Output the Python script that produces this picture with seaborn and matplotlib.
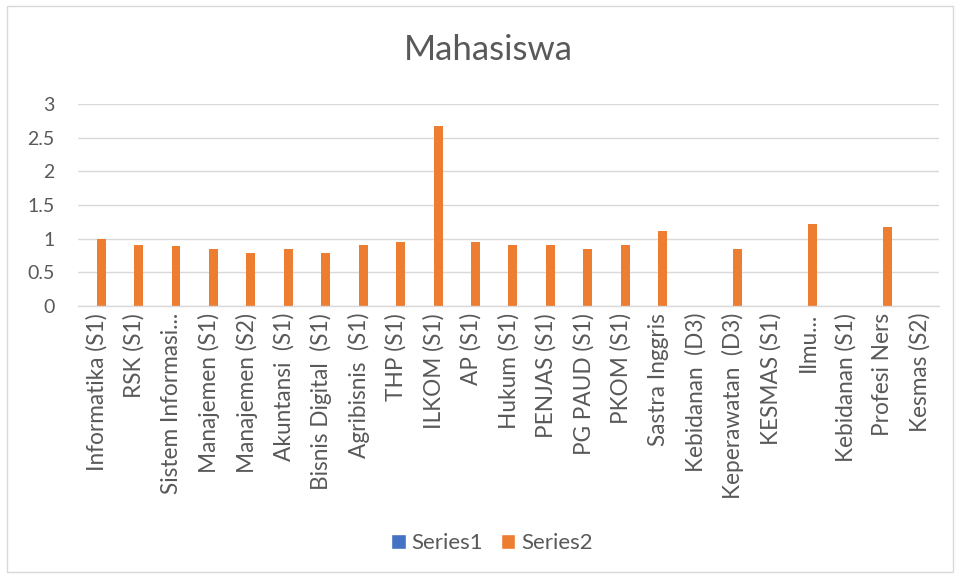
import matplotlib
matplotlib.use("Agg")
import matplotlib.pyplot as plt
import seaborn as sns
import pandas as pd
from matplotlib.patches import Rectangle, Patch

categories = ["Informatika (S1)", "RSK (S1)", "Sistem Informasi...", "Manajemen (S1)",
              "Manajemen (S2)", "Akuntansi  (S1)", "Bisnis Digital  (S1)", "Agribisnis  (S1)",
              "THP (S1)", "ILKOM (S1)", "AP (S1)", "Hukum (S1)", "PENJAS (S1)",
              "PG PAUD (S1)", "PKOM (S1)", "Sastra Inggris", "Kebidanan  (D3)",
              "Keperawatan  (D3)", "KESMAS (S1)", "Ilmu...", "Kebidanan (S1)",
              "Profesi Ners", "Kesmas (S2)"]
series1 = [0] * 23
series2 = [1.0, 0.90, 0.89, 0.85, 0.79, 0.85, 0.79, 0.90, 0.95, 2.68, 0.95, 0.90, 0.90,
           0.85, 0.90, 1.12, 0, 0.84, 0, 1.22, 0, 1.175, 0]
series_names = ["Series1", "Series2"]
yticks = [0, 0.5, 1, 1.5, 2, 2.5, 3]

df = pd.DataFrame({
    "cat": categories * 2,
    "val": series1 + series2,
    "series": [series_names[0]] * 23 + [series_names[1]] * 23,
})

sns.set_style("white")
plt.rcParams["font.family"] = ["Lato", "DejaVu Sans"]
gray = "#595959"

W, H = 961, 578
fig = plt.figure(figsize=(W / 100, H / 100), dpi=100)
fig.patches.append(Rectangle((7 / W, 1 - 572 / H), (953 - 7) / W, (572 - 6) / H,
                             transform=fig.transFigure, fill=False,
                             edgecolor="#D9D9D9", linewidth=1))

ax = fig.add_axes([78 / W, 1 - 306 / H, (939 - 78) / W, (306 - 104) / H])
sns.barplot(data=df, x="cat", y="val", hue="series", order=categories,
            hue_order=series_names, palette=["#4472C4", "#ED7D31"],
            width=0.476, ax=ax, legend=False, saturation=1, edgecolor="none")

ax.set_ylim(0, 3)
ax.set_xlim(-0.5, len(categories) - 0.5)
ax.set_yticks(yticks)
ax.set_yticklabels([f"{t:g}" for t in yticks], color=gray, fontsize=14)
ax.set_xticks(range(len(categories)))
ax.set_xticklabels(categories, rotation=90, color=gray, fontsize=16.3)
ax.tick_params(axis="y", length=0, pad=17)
ax.tick_params(axis="x", length=0, pad=5)
ax.set_xlabel("")
ax.set_ylabel("")
ax.yaxis.grid(True, color="#D9D9D9", linewidth=1)
ax.set_axisbelow(True)
for s in ["top", "right", "left"]:
    ax.spines[s].set_visible(False)
ax.spines["bottom"].set_color("#D9D9D9")
ax.spines["bottom"].set_linewidth(1)

fig.text(488 / W, 1 - 50 / H, "Mahasiswa", ha="center", va="center",
         fontsize=25, color=gray)

handles = [Patch(facecolor="#4472C4"), Patch(facecolor="#ED7D31")]
fig.legend(handles, series_names, loc="center", bbox_to_anchor=(492 / W, 1 - 543 / H),
           ncol=2, frameon=False, fontsize=16, labelcolor=gray,
           handlelength=0.65, handleheight=0.65, handletextpad=0.25, columnspacing=0.8)

fig.savefig("out.png", dpi=100)
